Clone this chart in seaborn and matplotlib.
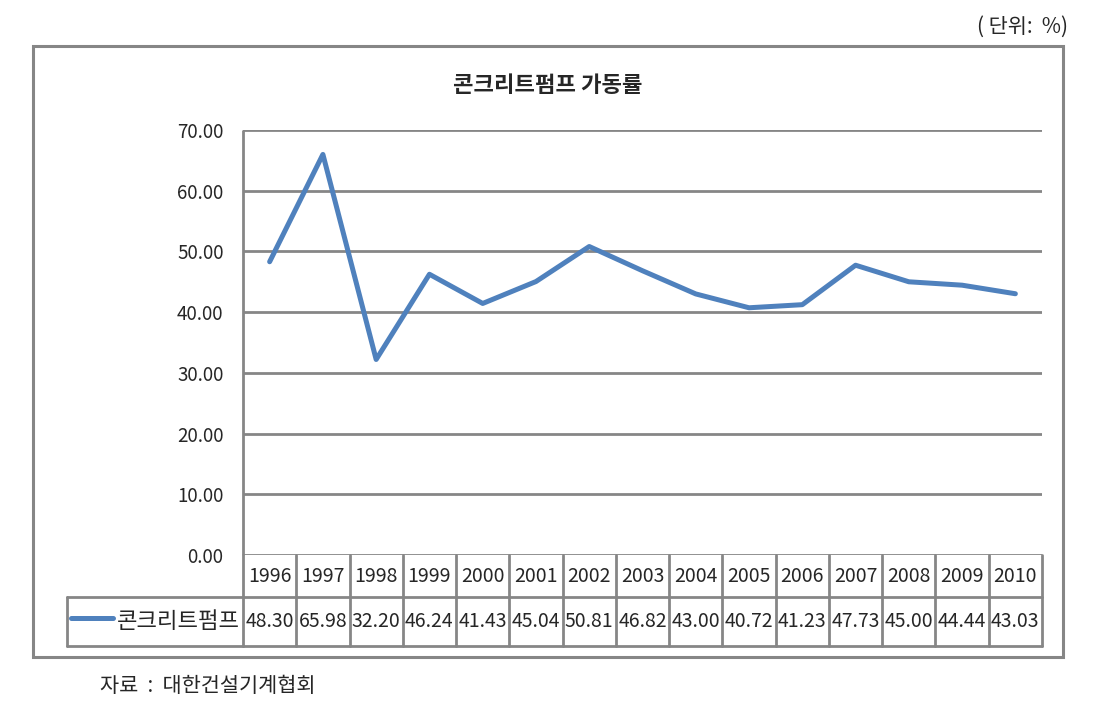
import seaborn as sns
import matplotlib.pyplot as plt
import pandas as pd
from matplotlib.lines import Line2D
from matplotlib.patches import Rectangle

years = ['1996', '1997', '1998', '1999', '2000', '2001', '2002', '2003',
         '2004', '2005', '2006', '2007', '2008', '2009', '2010']
rates = [48.30, 65.98, 32.20, 46.24, 41.43, 45.04, 50.81, 46.82,
         43.00, 40.72, 41.23, 47.73, 45.00, 44.44, 43.03]
series_name = '콘크리트펌프'
yticks = [0, 10, 20, 30, 40, 50, 60, 70]

df = pd.DataFrame({'idx': range(len(years)), 'year': years, 'rate': rates})

sns.set_style('white')
plt.rcParams['font.family'] = ['Noto Sans CJK KR', 'DejaVu Sans']

W, H = 1102, 701
fig = plt.figure(figsize=(W / 100, H / 100), dpi=100)
grid_c = '#868686'
line_c = '#4F81BD'

# outer chart frame
fig.add_artist(Rectangle((33 / W, 1 - 657 / H), (1063 - 33) / W, (657 - 46) / H,
                         transform=fig.transFigure, fill=False, ec=grid_c, lw=2.2))

left, right, top, bottom = 243, 1042, 130, 555
ax = fig.add_axes([left / W, 1 - bottom / H, (right - left) / W, (bottom - top) / H])
sns.lineplot(data=df, x='idx', y='rate', ax=ax, color=line_c, lw=3.6)
ax.set_xlim(-0.5, len(years) - 0.5)
ax.set_ylim(0, 70)
ax.set_yticks(yticks)
ax.set_yticklabels(['%.2f' % v for v in yticks], fontsize=13.5)
ax.set_xticks([])
ax.set_xlabel('')
ax.set_ylabel('')
ax.tick_params(axis='y', length=0, pad=14)
for v in yticks:
    ax.axhline(v, color=grid_c, lw=2, zorder=0)
for s in ['top', 'right', 'bottom']:
    ax.spines[s].set_visible(False)
ax.spines['left'].set_color(grid_c)
ax.spines['left'].set_linewidth(2)
ax.spines['left'].set_capstyle('butt')

# data table under the axis
ph = bottom - top
r1 = -(597 - bottom) / ph
r2 = -(646 - bottom) / ph
tr = ax.get_xaxis_transform()
n = len(years)
for i in range(n + 1):
    ax.add_line(Line2D([i - 0.5, i - 0.5], [0, r2], transform=tr, color=grid_c,
                       lw=2, clip_on=False))
ax.add_line(Line2D([-0.5, n - 0.5], [r1, r1], transform=tr, color=grid_c, lw=2, clip_on=False))
ax.add_line(Line2D([-0.5, n - 0.5], [r2, r2], transform=tr, color=grid_c, lw=2, clip_on=False))
for i, (yr, v) in enumerate(zip(years, rates)):
    ax.text(i, r1 / 2, yr, transform=tr, ha='center', va='center', fontsize=14)
    ax.text(i, (r1 + r2) / 2, '%.2f' % v, transform=tr, ha='center', va='center', fontsize=14)

# legend cell
lx = 67
fig.add_artist(Line2D([lx / W, left / W], [1 - 597 / H, 1 - 597 / H], color=grid_c, lw=2))
fig.add_artist(Line2D([lx / W, left / W], [1 - 646 / H, 1 - 646 / H], color=grid_c, lw=2))
fig.add_artist(Line2D([lx / W, lx / W], [1 - 597 / H, 1 - 646 / H], color=grid_c, lw=2))
fig.add_artist(Line2D([71 / W, 113 / W], [1 - 618 / H, 1 - 618 / H], color=line_c, lw=3.6))
fig.text(240 / W, 1 - 621 / H, series_name, ha='right', va='center', fontsize=16)

fig.text(548 / W, 1 - 85 / H, '콘크리트펌프 가동률', ha='center', va='center',
         fontsize=16, fontweight='bold')
fig.text(1068 / W, 1 - 27 / H, '( 단위:  %)', ha='right', va='center', fontsize=15)
fig.text(100 / W, 1 - 686 / H, '자료  :  대한건설기계협회', ha='left', va='center', fontsize=15)

plt.savefig('out.png', dpi=100)
